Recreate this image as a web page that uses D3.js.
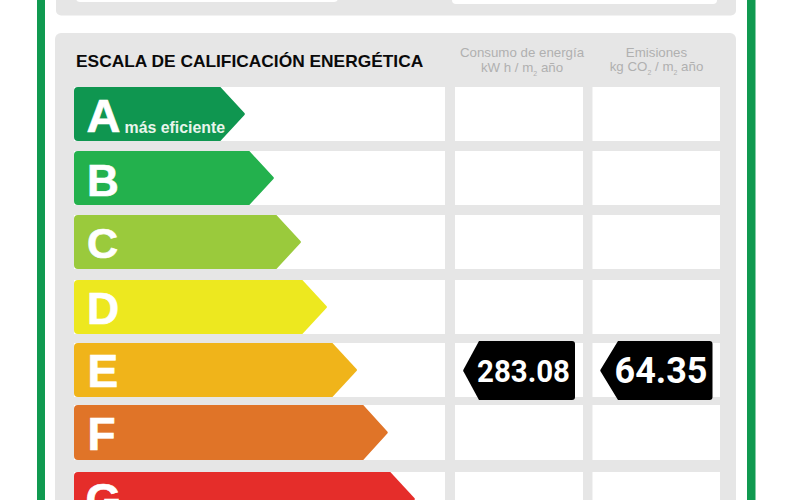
<!DOCTYPE html>
<html>
<head>
<meta charset="utf-8">
<script src="https://cdn.jsdelivr.net/npm/d3@7"></script>
<style>
  html, body { margin: 0; padding: 0; background: #fff; overflow: hidden; }
  svg { display: block; font-family: "Liberation Sans", Arial, sans-serif; }
</style>
</head>
<body>
<div id="chart"></div>
<script>
const grades = ["A", "B", "C", "D", "E", "F", "G"];
// bar length as % of the first column
const barLengths = [46.2, 54, 61.3, 68.3, 76.4, 84.7, 92];
const gradeColors = ["#0f9650", "#23b14d", "#9aca3c", "#ede81f", "#f0b41a", "#e07428", "#e52d2a"];
const title = "ESCALA DE CALIFICACIÓN ENERGÉTICA";
const bestLabel = "más eficiente";
const consumoHeader = ["Consumo de energía", "kW h / m", "2", " año"];
const emisionesHeader = ["Emisiones", "kg CO", "2", " / m", "2", " año"];
const ratedGrade = "E";
const consumo = "283.08";
const emisiones = "64.35";

const width = 793, height = 500;
const rowTops = [87, 151, 215, 280, 343, 405, 472];
const rowHeights = [54, 54, 54, 54, 54, 55, 54];
const letterSizes = [47, 44, 43, 44.5, 46, 46, 46];
const letterX = [86.5, 87, 87, 87, 87.5, 87.5, 85.5];
const letterBase = [45, 45, 42.5, 44, 44, 45, 43.5];

const svg = d3.select("#chart").append("svg")
  .attr("width", width)
  .attr("height", height);

const y = d3.scaleOrdinal().domain(grades).range(rowTops);
const h = d3.scaleOrdinal().domain(grades).range(rowHeights);
const x = d3.scaleLinear().domain([0, 100]).range([74, 445]);

// green frame
svg.append("rect").attr("x", 37).attr("y", -10).attr("width", 8).attr("height", 530).attr("fill", "#109a50");
svg.append("rect").attr("x", 747).attr("y", -10).attr("width", 8.5).attr("height", 530).attr("fill", "#109a50");

// upper panel, cut by the top of the page
svg.append("rect").attr("x", 56).attr("y", -40).attr("width", 680).attr("height", 55.5).attr("rx", 5).attr("fill", "#e6e6e6");
svg.append("rect").attr("x", 76).attr("y", -30).attr("width", 262).attr("height", 32).attr("rx", 4).attr("fill", "#fff");
svg.append("rect").attr("x", 452).attr("y", -30).attr("width", 265).attr("height", 34).attr("rx", 4).attr("fill", "#fff");

// main panel
svg.append("rect").attr("x", 55).attr("y", 33).attr("width", 681).attr("height", 500).attr("rx", 6).attr("fill", "#e6e6e6");

svg.append("text")
  .attr("x", 76).attr("y", 66.5)
  .attr("font-size", 17.35).attr("font-weight", "bold").attr("fill", "#0a0a0a")
  .text(title);

// column headers, a "2" is set as a subscript
function header(cx, yy, parts) {
  const t = svg.append("text").attr("x", cx).attr("y", yy)
    .attr("text-anchor", "middle").attr("font-size", 13.3).attr("fill", "#b0b0b0");
  let shift = 0;
  parts.forEach(function(p) {
    const isSub = p === "2";
    t.append("tspan")
      .attr("font-size", isSub ? 7 : 13.3)
      .attr("dy", isSub ? 4 : shift)
      .text(p);
    shift = isSub ? -4 : 0;
  });
}
header(522, 57, [consumoHeader[0]]);
header(522, 72, consumoHeader.slice(1));
header(656.5, 57, [emisionesHeader[0]]);
header(656.5, 71, emisionesHeader.slice(1));

// white cells of each row
const columns = [[74, 445], [455, 583], [592.5, 720]];
columns.forEach(function(c) {
  svg.append("g").selectAll("rect")
    .data(grades)
    .join("rect")
    .attr("x", c[0])
    .attr("y", d => y(d))
    .attr("width", c[1] - c[0])
    .attr("height", d => h(d))
    .attr("fill", "#fff");
});

function gradeArrow(d, i) {
  const p = d3.path();
  const x0 = x(0), x1 = x(barLengths[i]);
  const top = y(d), bot = top + h(d), mid = top + h(d) / 2;
  const neck = x1 - 25;
  p.moveTo(x0 + 4, top);
  p.lineTo(neck, top);
  p.arcTo(x1, mid, neck, bot, 1.5);
  p.lineTo(neck, bot);
  p.lineTo(x0 + 4, bot);
  p.arcTo(x0, bot, x0, bot - 4, 4);
  p.lineTo(x0, top + 4);
  p.arcTo(x0, top, x0 + 4, top, 4);
  p.closePath();
  return p.toString();
}

svg.append("g").selectAll("path")
  .data(grades)
  .join("path")
  .attr("d", gradeArrow)
  .attr("fill", (d, i) => gradeColors[i]);

svg.append("g").selectAll("text")
  .data(grades)
  .join("text")
  .attr("x", (d, i) => letterX[i])
  .attr("y", (d, i) => y(d) + letterBase[i])
  .attr("font-size", (d, i) => letterSizes[i])
  .attr("font-weight", "bold").attr("fill", "#fff")
  .attr("stroke", "#fff").attr("stroke-width", 0.7)
  .text(d => d);

svg.append("text")
  .attr("x", 124.5).attr("y", y("A") + 45.5)
  .attr("font-size", 15.9).attr("font-weight", "bold").attr("fill", "#e8f5ec")
  .text(bestLabel);

// black tags with the rating
function tag(left, shoulder, right, label, size, base) {
  const top = y(ratedGrade) - 2, bot = top + 59, mid = (top + bot) / 2;
  const p = d3.path();
  p.moveTo(shoulder, top);
  p.lineTo(right - 3, top);
  p.arcTo(right, top, right, top + 3, 3);
  p.lineTo(right, bot - 3);
  p.arcTo(right, bot, right - 3, bot, 3);
  p.lineTo(shoulder, bot);
  p.arcTo(left, mid, shoulder, top, 1.5);
  p.closePath();
  svg.append("path").attr("d", p.toString()).attr("fill", "#000");
  svg.append("text")
    .attr("x", right - 5 - 93).attr("y", base)
    .attr("textLength", 93).attr("lengthAdjust", "spacingAndGlyphs")
    .attr("font-family", "Roboto").attr("font-weight", "bold")
    .attr("font-size", size).attr("fill", "#fff")
    .text(label);
}
tag(463, 479, 575, consumo, 31.5, 382);
tag(600, 618, 712.5, emisiones, 36.5, 383);
</script>
</body>
</html>
